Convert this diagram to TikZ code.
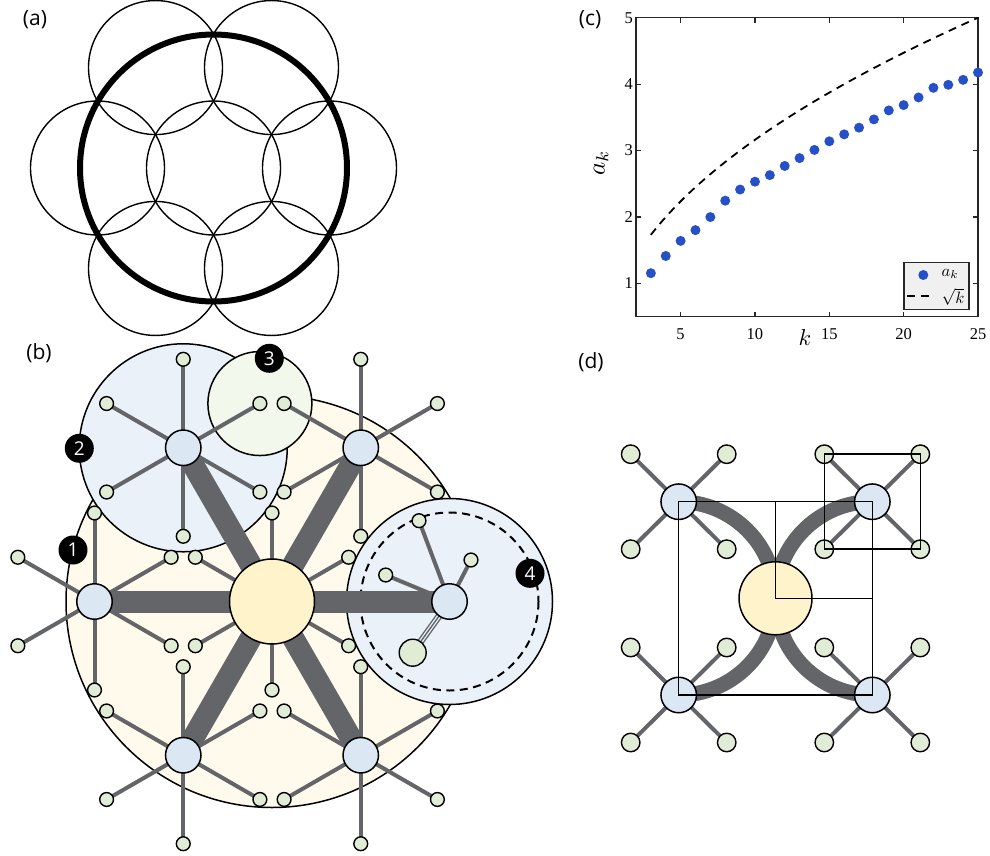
\documentclass[tikz,border=0pt]{standalone}
\usepackage{fontspec}
\setmainfont{Liberation Serif}
\newfontfamily\labfont{Open Sans}
\usetikzlibrary{calc}
\definecolor{yfill}{HTML}{FFFAEC}
\definecolor{bfill}{HTML}{EAF1F9}
\definecolor{gfill}{HTML}{F2F8EC}
\definecolor{hubc}{HTML}{DCE7F4}
\definecolor{ctrc}{HTML}{FEF3CB}
\definecolor{leafc}{HTML}{E1ECD6}
\definecolor{edgec}{HTML}{646568}
\definecolor{dotc}{HTML}{2550C8}
\definecolor{axc}{HTML}{262626}
\definecolor{legc}{HTML}{F0F0F0}
\pgfdeclarelayer{back}
\pgfdeclarelayer{edges}
\pgfsetlayers{back,edges,main}
\begin{document}
\begin{tikzpicture}[x=1pt,y=-1pt,
  leaf/.style={circle,draw=black,line width=1.4pt,fill=leafc,minimum size=13.8pt,inner sep=0pt},
  bigleaf/.style={leaf,minimum size=27pt},
  dleaf/.style={leaf,minimum size=18.5pt},
  hub/.style={circle,draw=black,line width=1.5pt,fill=hubc,minimum size=35.5pt,inner sep=0pt},
  ctr/.style={circle,draw=black,line width=1.5pt,fill=ctrc,minimum size=85pt,inner sep=0pt},
  dctr/.style={ctr,minimum size=73pt},
  spoke/.style={draw=edgec,line width=22pt},
  dspoke/.style={draw=edgec,line width=15pt},
  edge/.style={draw=edgec,line width=4pt},
  badge/.style={circle,fill=black,text=white,font=\labfont\fontsize{19}{19}\selectfont,minimum size=29pt,inner sep=0pt},
  plabel/.style={font=\labfont\fontsize{21}{21}\selectfont,inner sep=0pt},
  tick/.style={font=\fontsize{16.5}{16.5}\selectfont,inner sep=0pt},
  disk/.style={draw=black,line width=1.5pt}
]
\useasboundingbox (0,0) rectangle (990,856);

% ---------- panel labels ----------
\node[plabel] (la) at (35,20) {(a)};
\node[plabel] (lb) at (39,353) {(b)};
\node[plabel] (lc) at (590,20) {(c)};
\node[plabel] (ld) at (591,362) {(d)};

% ---------- panel (a) ----------
\coordinate (ac) at (213.5,168);
\draw[line width=1.4pt] (ac) circle[radius=67];
\foreach \a in {0,60,...,300}
  \draw[line width=1.4pt] ($(ac)+(\a:116)$) circle[radius=67];
\draw[line width=6pt] (ac) circle[radius=133.5];

% ---------- panel (b) ----------
\node[ctr] (bc) at (272,601.5) {};
\foreach \i in {0,...,5}
  \node[hub] (bh\i) at ($(bc)+(\i*60:177.5)$) {};
\foreach \j in {0,...,5}
  \node[leaf] (bcl\j) at ($(bc)+(30+\j*60:88.5)$) {};
\foreach \i in {1,...,5}
  \foreach \j in {0,...,5}
    \node[leaf] (bl\i-\j) at ($(bh\i)+(30+\j*60:88.5)$) {};
% custom leaves of the right hub
\node[leaf] (rl1) at (419,520.7) {};
\node[leaf] (rl2) at (385.7,575) {};
\node[leaf] (rl3) at (471,560) {};
\node[bigleaf] (rl4) at (412.7,652.7) {};

\begin{pgfonlayer}{back}
  \draw[disk,fill=yfill] (bc) circle[radius=206];
  \draw[disk,fill=bfill] (bh0) circle[radius=103];
  \draw[disk,fill=bfill] (bh4) circle[radius=104];
  \draw[disk,fill=gfill] (bl4-5) circle[radius=52];
  \draw[line width=2pt,dash pattern=on 8pt off 5.5pt] (bh0) circle[radius=89];
\end{pgfonlayer}

\begin{pgfonlayer}{edges}
  \foreach \i in {0,...,5}
    \draw[spoke] (bc.center) -- (bh\i.center);
  \foreach \j in {0,...,5}
    \draw[edge] (bc.center) -- (bcl\j.center);
  \foreach \i in {1,...,5}
    \foreach \j in {0,...,5}
      \draw[edge] (bh\i.center) -- (bl\i-\j.center);
  \draw[edge] (bh0.center) -- (rl1.center);
  \draw[edge] (bh0.center) -- (rl2.center);
  \draw[edge] (bh0.center) -- (rl3.center);
  \draw[draw=edgec,line width=1.4pt,double=bfill,double distance=4pt] (bh0.center) -- (rl4.center);
  \draw[draw=edgec,line width=1.4pt] (bh0.center) -- (rl4.center);
\end{pgfonlayer}

\node[badge] (b1) at (73,550) {1};
\node[badge] (b2) at (79.3,448.3) {2};
\node[badge] (b3) at (269.3,358.3) {3};
\node[badge] (b4) at (530,573.3) {4};

% ---------- panel (c) ----------
\begin{scope}[shift={(606.26,349.92)},x=14.87pt,y=66.44pt]
  \draw[line width=1.3pt,draw=axc] (2,0.5) rectangle (25,5);
  \foreach \k in {5,10,15,20,25} {
    \draw[line width=1.1pt,draw=axc] (\k,0.5) -- ++(0,5pt);
    \draw[line width=1.1pt,draw=axc] (\k,5) -- ++(0,-5pt);
    \node[tick,anchor=north] (xt\k) at ([yshift=-12pt]\k,0.5) {\k};
  }
  \foreach \v in {1,2,3,4,5} {
    \draw[line width=1.1pt,draw=axc] (2,\v) -- ++(5pt,0);
    \draw[line width=1.1pt,draw=axc] (25,\v) -- ++(-5pt,0);
    \node[tick,anchor=east] (yt\v) at ([xshift=-3pt]2,\v) {\v};
  }
  \draw[line width=1.8pt,dash pattern=on 8pt off 6pt,domain=3:25,samples=80]
    plot (\x,{sqrt(\x)});
  \foreach \k/\v in {3/1.155,4/1.414,5/1.641,6/1.803,7/2.0,8/2.246,9/2.414,10/2.532,
                     11/2.631,12/2.769,13/2.887,14/3.01,15/3.14,16/3.245,17/3.345,
                     18/3.47,19/3.605,20/3.685,21/3.80,22/3.945,23/3.99,24/4.065,25/4.175}
    \fill[dotc] (\k,\v) circle[radius=5pt];
\end{scope}
\node[scale=2.3,inner sep=0pt] (xl) at (805,338) {$k$};
\node[scale=2.5,rotate=90,inner sep=0pt] (yl) at (601,163) {$a_k$};
% legend
\draw[line width=1.5pt,draw=axc,fill=legc] (904,262.7) rectangle (969,309.3);
\fill[dotc] (923.3,275) circle[radius=5pt];
\node[scale=1.65,inner sep=0pt] (lg1) at (950,274) {$a_k$};
\draw[line width=1.8pt,dash pattern=on 8pt off 6pt] (907.3,296) -- (934,296);
\node[scale=1.65,inner sep=0pt] (lg2) at (953,296.5) {$\sqrt{k}$};

% ---------- panel (d) ----------
\node[dctr] (dc) at (775.5,598.3) {};
\node[hub] (dtl) at (678.7,501.7) {};
\node[hub] (dtr) at (872.3,501.7) {};
\node[hub] (dbl) at (678.7,695) {};
\node[hub] (dbr) at (872.3,695) {};
\foreach \h in {dtl,dtr,dbl,dbr} {
  \node[dleaf] (\h-a) at ($(\h)+(-48,-47.5)$) {};
  \node[dleaf] (\h-b) at ($(\h)+(48,-47.5)$) {};
  \node[dleaf] (\h-c) at ($(\h)+(-48,47.5)$) {};
  \node[dleaf] (\h-d) at ($(\h)+(48,47.5)$) {};
}
\begin{pgfonlayer}{edges}
  \draw[dspoke] (dtl.center) .. controls +(53.4,0) and +(0,-53.4) .. (dc.center);
  \draw[dspoke] (dtr.center) .. controls +(-53.4,0) and +(0,-53.4) .. (dc.center);
  \draw[dspoke] (dbl.center) .. controls +(53.4,0) and +(0,53.4) .. (dc.center);
  \draw[dspoke] (dbr.center) .. controls +(-53.4,0) and +(0,53.4) .. (dc.center);
  \foreach \h in {dtl,dtr,dbl,dbr}
    \foreach \s in {a,b,c,d}
      \draw[edge] (\h.center) -- (\h-\s.center);
\end{pgfonlayer}
\draw[line width=1.5pt] (dtl.center) rectangle (dbr.center);
\draw[line width=1.5pt] (dc.center |- dtl.center) -- (dc.center) -- (dbr.center |- dc.center);
\draw[line width=1.5pt] (dtr-a.center) rectangle (dtr-d.center);
\end{tikzpicture}
\end{document}
